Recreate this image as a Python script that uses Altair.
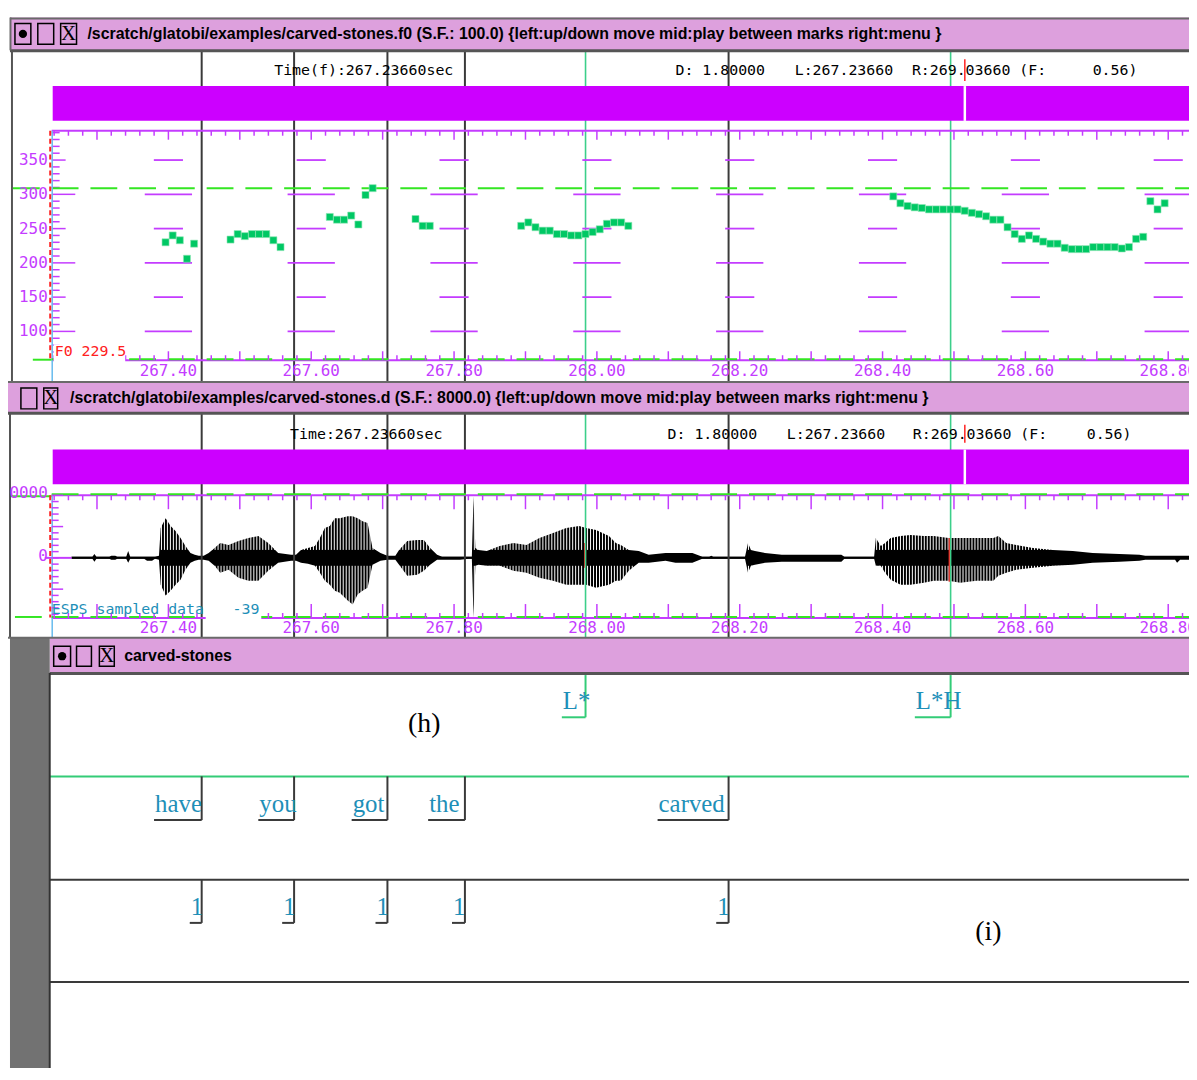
import altair as alt
import pandas as pd

W, H = 1189, 1060

# ------------------------------------------------------------------ values
T_VIEW = [267.1754, 268.8291]      # time shown at the left / right edge of the window (s)
T_LEFT = 267.2366                  # "L:" start of the signal views
T_MARK = 268.5152                  # marker in the scroll bars / read-outs

# F0 track (Hz), 10 ms frames, voiced frames only
f0_t = [267.396, 267.406, 267.416, 267.426, 267.436,
        267.487, 267.497, 267.507, 267.517, 267.527, 267.537, 267.547, 267.557,
        267.626, 267.636, 267.646, 267.656, 267.666, 267.676, 267.686,
        267.746, 267.756, 267.766,
        267.894, 267.904, 267.914, 267.924, 267.934, 267.944, 267.954, 267.964,
        267.974, 267.984, 267.994, 268.004, 268.014, 268.024, 268.034, 268.044,
        268.415, 268.425, 268.435, 268.445, 268.455, 268.465, 268.475, 268.485,
        268.495, 268.505, 268.515, 268.525, 268.535, 268.545, 268.555, 268.565,
        268.575, 268.585, 268.595, 268.605, 268.615, 268.625, 268.635, 268.645,
        268.655, 268.665, 268.675, 268.685, 268.695, 268.705, 268.715, 268.725,
        268.735, 268.745, 268.755, 268.765, 268.775, 268.785, 268.795]
f0_hz = [230, 240, 233, 206, 228,
         234, 242, 239, 242, 242, 242, 233, 223,
         267, 263, 263, 269, 256, 299, 309,
         264, 254, 254,
         254, 259, 252, 247, 247, 242, 242, 240,
         240, 242, 245, 249, 257, 259, 259, 254,
         297, 287, 283, 281, 280, 278, 278, 278,
         278, 278, 276, 273, 271, 268, 263, 263,
         252, 242, 235, 240, 235, 231, 228, 228,
         222, 220, 220, 220, 223, 223, 223, 223,
         221, 223, 235, 238, 290, 278, 287]

# speech waveform envelope (sample units): time, upper and lower extreme
wave_t = [267.2644, 267.2936, 267.2964, 267.2992, 267.3173, 267.3201, 267.3256, 267.3284,
          267.3409, 267.3437, 267.3465, 267.3660, 267.3701, 267.3771, 267.3813, 267.3868,
          267.3892, 267.3961, 267.4031, 267.4100, 267.4170, 267.4239, 267.4309, 267.4369,
          267.4424, 267.4494, 267.4564, 267.4647, 267.4726, 267.4842, 267.4981, 267.5120,
          267.5259, 267.5398, 267.5537, 267.5718, 267.5787, 267.5857, 267.5954, 267.6052,
          267.6121, 267.6191, 267.6260, 267.6330, 267.6399, 267.6511, 267.6580, 267.6650,
          267.6719, 267.6789, 267.6858, 267.6970, 267.7067, 267.7178, 267.7230, 267.7345,
          267.7484, 267.7577, 267.7665, 267.7762, 267.7832, 267.8082, 267.8207, 267.8249,
          267.8273, 267.8298, 267.8342, 267.8458, 267.8639, 267.8829, 267.9014, 267.9195,
          267.9386, 267.9571, 267.9751, 267.9849, 267.9988, 268.0169, 268.0266, 268.0335,
          268.0447, 268.0586, 268.0725, 268.0961, 268.1100, 268.1337, 268.1476, 268.1573,
          268.1601, 268.1629, 268.2074, 268.2116, 268.2157, 268.2213, 268.2352, 268.2589,
          268.3048, 268.3423, 268.3465, 268.3882, 268.3906, 268.3975, 268.4035, 268.4114,
          268.4253, 268.4392, 268.4577, 268.4717, 268.4925, 268.5088, 268.5315, 268.5551,
          268.5621, 268.5732, 268.5871, 268.6107, 268.6386, 268.6664, 268.6942, 268.7317,
          268.7596, 268.7679, 268.8096, 268.8124, 268.8166, 268.8291]
wave_hi = [160, 160, 630, 160, 160, 320, 320, 160,
           160, 1110, 160, 160, 160, 160, 160, 320,
           4760, 6350, 5080, 4290, 3170, 1900, 790, 480,
           320, 320, 790, 1590, 2380, 2060, 2700, 3170,
           3490, 2380, 790, 480, 480, 1270, 1590, 1900,
           3170, 4760, 5080, 6350, 6350, 6670, 6670, 6350,
           5870, 5560, 1590, 790, 320, 320, 1270, 2700,
           2860, 2860, 1590, 480, 160, 160, 160, 160,
           9840, 1590, 1270, 1110, 1900, 2380, 2060, 3170,
           3970, 4760, 5080, 4760, 4440, 3490, 2380, 2060,
           1270, 1110, 480, 790, 790, 790, 160, 160,
           320, 160, 160, 2380, 1270, 1110, 790, 480,
           480, 480, 160, 160, 3170, 1900, 2380, 3170,
           3490, 3650, 3490, 3490, 3170, 3170, 3170, 3170,
           3490, 2380, 2060, 1590, 1270, 1110, 790, 630,
           480, 320, 320, 320, 320, 320]
wave_lo = [-160, -160, -630, -160, -160, -320, -320, -160,
           -160, -790, -160, -160, -480, -480, -160, -320,
           -4290, -6030, -5240, -4290, -3490, -1900, -790, -480,
           -320, -320, -480, -1270, -2380, -1900, -3170, -3650,
           -3650, -2060, -790, -480, -480, -790, -950, -1270,
           -2380, -3650, -4290, -5240, -5560, -6830, -7460, -5870,
           -5240, -4760, -1110, -480, -320, -320, -1110, -2860,
           -2700, -2060, -1110, -320, -320, -320, -160, -160,
           -9520, -1270, -1110, -1270, -1270, -2060, -2380, -3170,
           -3650, -4290, -4290, -4290, -4760, -4290, -3650, -3650,
           -2060, -790, -790, -480, -790, -790, -160, -160,
           -160, -160, -160, -2380, -1270, -1110, -790, -630,
           -630, -630, -160, -160, -1270, -1270, -2380, -3490,
           -4290, -4290, -3970, -3650, -3650, -3970, -3650, -3650,
           -2860, -2380, -1900, -1590, -1270, -1110, -790, -630,
           -480, -320, -320, -790, -320, -320]

# samples at the cursor drawn in red
red_t = [267.9835, 268.4939]
red_hi = [2380, 3170]
red_lo = [-1590, -3810]

# label tiers
tone_labels = ["L*", "L*H"]
tone_start = [267.9509, 268.4452]
tone_end = [267.9841, 268.4953]
word_labels = ["have", "you", "got", "the", "carved"]
word_start = [267.3799, 267.5259, 267.6566, 267.7637, 268.0850]
word_end = [267.4466, 267.5760, 267.7067, 267.8152, 268.1844]
break_labels = ["1", "1", "1", "1", "1"]
break_start = [267.4299, 267.5593, 267.6900, 267.7971, 268.1671]
break_end = [267.4466, 267.5760, 267.7067, 267.8152, 268.1844]

time_tick_labels = ["267.40", "267.60", "267.80", "268.00", "268.20", "268.40", "268.60", "268.80"]
f0_axis_labels = [100, 150, 200, 250, 300, 350]
F0_CURSOR = 309
wave_axis_values = [10000, 0]
wave_axis_texts = ["0000", "0"]

f0_title = "/scratch/glatobi/examples/carved-stones.f0 (S.F.:  100.0) {left:up/down move  mid:play between marks  right:menu  }"
wave_title = "/scratch/glatobi/examples/carved-stones.d (S.F.: 8000.0) {left:up/down move  mid:play between marks  right:menu  }"
label_title = "carved-stones"
info_f0 = ["Time(f):267.23660sec", "D: 1.80000", "L:267.23660", "R:269.03660 (F:", "0.56)"]
info_wave = ["Time:267.23660sec", "D: 1.80000", "L:267.23660", "R:269.03660 (F:", "0.56)"]
F0_READOUT = "F0 229.5"
WAVE_NAME = "ESPS sampled data"
WAVE_READOUT = "-39"

# ------------------------------------------------------------------ styling
PLUM = "#dda0dd"
MAG = "#c43cff"
MAGBAR = "#cc00ff"
GREEN = "#33e622"
CURG = "#3ccf8a"
DARK = "#3a3a3a"
TEAL = "#1e8fb8"
CYAN = "#66bbee"
RED = "#ff2020"
F0C = "#00c864"
MONO = "DejaVu Sans Mono"
NARROW = "Liberation Sans Narrow, Arial Narrow, Liberation Sans, sans-serif"
SERIF = "Liberation Serif"


def S(domain, rng):
    return alt.Scale(domain=list(domain), range=list(rng), nice=False, zero=False)


SC_T = S(T_VIEW, [0, W])                 # time
SC_PX = S([8, 8 + W], [0, W])            # window layout (screen columns)
SC_PY = S([8, 8 + H], [0, H])            # window layout (screen rows)
SC_F0 = S([100, 350], [322, 149.5])      # F0 in Hz
SC_AMP = S([0, 10000], [550, 487])       # waveform amplitude


def ex(f, sc):
    return alt.X(f"{f}:Q", scale=sc, axis=None)


def ey(f, sc):
    return alt.Y(f"{f}:Q", scale=sc, axis=None)


COL = alt.Color("c:N", scale=None)
WID = alt.Size("w:Q", scale=None)


def hrules(rows, xs=SC_PX, ys=SC_PY, **kw):
    df = pd.DataFrame(rows, columns=["x", "x2", "y", "c", "w"])
    return alt.Chart(df).mark_rule(**kw).encode(
        x=ex("x", xs), x2="x2:Q", y=ey("y", ys), color=COL, size=WID)


def vrules(rows, xs=SC_PX, ys=SC_PY, **kw):
    df = pd.DataFrame(rows, columns=["x", "y", "y2", "c", "w"])
    return alt.Chart(df).mark_rule(**kw).encode(
        x=ex("x", xs), y=ey("y", ys), y2="y2:Q", color=COL, size=WID)


def rects(rows, **kw):
    df = pd.DataFrame(rows, columns=["x", "x2", "y", "y2", "c"])
    return alt.Chart(df).mark_rect(**kw).encode(
        x=ex("x", SC_PX), x2="x2:Q", y=ey("y", SC_PY), y2="y2:Q", color=COL)


def texts(rows, xs=SC_PX, ys=SC_PY, **kw):
    df = pd.DataFrame(rows, columns=["x", "y", "s", "c"])
    return alt.Chart(df).mark_text(**kw).encode(
        x=ex("x", xs), y=ey("y", ys), text="s:N", color=COL)


layers = []

# waveform (filled envelope)
wave_df = pd.DataFrame({"t": wave_t, "hi": wave_hi, "lo": wave_lo})
layers.append(alt.Chart(wave_df).mark_area(color="black", interpolate="linear").encode(
    x=ex("t", SC_T), y=ey("hi", SC_AMP), y2="lo:Q"))

# rendering texture: thin white comb outside a solid core, imitating the
# individual sample lines of the waveform display
comb = []
xpix = 60.5
while xpix < 1197:
    comb.append((xpix, 497, 550, "white", 1))
    comb.append((xpix, 566, 617, "white", 1))
    xpix += 3
layers.append(vrules(comb))

zero_df = pd.DataFrame({"t": [wave_t[0]], "t2": [wave_t[-1]], "a": [0]})
layers.append(alt.Chart(zero_df).mark_rule(color="black", strokeWidth=2).encode(
    x=ex("t", SC_T), x2="t2:Q", y=ey("a", SC_AMP)))
red_df = pd.DataFrame({"t": red_t, "hi": red_hi, "lo": red_lo})
layers.append(alt.Chart(red_df).mark_rule(color=RED, strokeWidth=2).encode(
    x=ex("t", SC_T), y=ey("hi", SC_AMP), y2="lo:Q"))

# word boundaries and cursors through the two signal windows
spans = [(47, 380), (413, 638)]
vl = [(t, a, b, DARK, 2) for t in word_end for a, b in spans]
vl += [(t, a, b, CURG, 1.6) for t in tone_end for a, b in spans]
layers.append(vrules(vl, xs=SC_T))

# F0 reticle and left axis ticks
grid = []
for lab in time_tick_labels:
    tc = float(lab)
    for lv in f0_axis_labels:
        hw = 0.0331 if lv % 100 == 0 else 0.0204
        grid.append((tc - hw, tc + hw, lv, MAG, 1.8))
for hz in range(60, 400, 10):
    ln = 0.0330 if hz % 100 == 0 else (0.0195 if hz % 50 == 0 else 0.0111)
    grid.append((T_LEFT, T_LEFT + ln, hz, MAG, 1.5))
layers.append(hrules(grid, xs=SC_T, ys=SC_F0))

# horizontal F0 cursor (dashed)
layers.append(hrules([(13, 1197, F0_CURSOR, GREEN, 2)], ys=SC_F0, strokeDash=[27, 12]))

# F0 points
f0_df = pd.DataFrame({"t": f0_t, "hz": f0_hz})
layers.append(alt.Chart(f0_df).mark_square(size=50, color=F0C, opacity=1, stroke="#8ee6b4",
                                           strokeWidth=0.6).encode(
    x=ex("t", SC_T), y=ey("hz", SC_F0)))

# axis frame lines
layers.append(hrules([
    (52, 1197, 128, MAG, 2), (52, 1197, 359, MAG, 2),
    (52, 1197, 495, MAG, 2), (52, 1197, 618.5, MAG, 2),
    (45, 72, 558, MAG, 2),
    (10, 52, 496, GREEN, 2), (15, 42, 617.5, GREEN, 2), (33, 52, 358.5, GREEN, 2),
]))
layers.append(vrules([
    (52.5, 128, 380, CYAN, 1.5), (52.5, 495, 638, CYAN, 1.5),
    (12, 47, 380, "#555555", 2), (10, 413, 638, "#555555", 2),
]))
layers.append(vrules([(50.5, 128, 359, RED, 2), (50.5, 495, 618, RED, 2)], strokeDash=[5, 3]))
layers.append(hrules([(52, 1197, 358, GREEN, 2), (52, 1197, 494, GREEN, 2),
                      (52, 1197, 617.5, GREEN, 2)], strokeDash=[27, 12]))

# time ticks
tick_t = [round(267.24 + 0.02 * k, 2) for k in range(80)]
frames = [(128, 1, 5, 9), (359, -1, 5, 9), (495, 1, 5, 14), (618.5, -1, 5, 14)]
tk = []
for t in tick_t:
    major = abs(t * 10 - round(t * 10)) < 1e-6
    for y0, d, lmin, lmaj in frames:
        tk.append((t, y0, y0 + d * (lmaj if major else lmin), MAG, 1.5))
layers.append(vrules(tk, xs=SC_T))

# waveform amplitude ticks
wt = []
for a in range(-9000, 10001, 1000):
    ln = 0.0160 if a % 5000 == 0 and a != 0 else 0.0097
    wt.append((T_LEFT, T_LEFT + ln, a, MAG, 1.5))
layers.append(hrules(wt, xs=SC_T, ys=SC_AMP))

# white boxes behind read-outs
layers.append(rects([(54, 126, 343, 362, "white"), (207, 263, 601, 622, "white")]))

# mono texts (left aligned)
xs_f0 = [276, 680, 800, 918, 1100]
xs_wv = [292, 672, 792, 919, 1094]
mono = [(x, 67, s, "black") for x, s in zip(xs_f0, info_f0)]
mono += [(x, 433, s, "black") for x, s in zip(xs_wv, info_wave)]
mono += [(55, 350, F0_READOUT, RED), (52, 610, WAVE_NAME, TEAL), (234, 610, WAVE_READOUT, TEAL)]
layers.append(texts(mono, font=MONO, fontSize=15, align="left", baseline="middle"))

# time tick labels
tl = [(float(s), 362, s, MAG) for s in time_tick_labels]
tl += [(float(s), 621, s, MAG) for s in time_tick_labels]
layers.append(texts(tl, xs=SC_T, font=MONO, fontSize=16, align="center", baseline="top"))

# F0 axis labels
fl = [(T_LEFT, v, str(v), MAG) for v in f0_axis_labels]
layers.append(texts(fl, xs=SC_T, ys=SC_F0, font=MONO, fontSize=16, align="right",
                    baseline="middle", dx=-4))
wl = [(T_LEFT, v, s, MAG) for v, s in zip(wave_axis_values, wave_axis_texts)]
layers.append(texts(wl, xs=SC_T, ys=SC_AMP, font=MONO, fontSize=16, align="right",
                    baseline="middle", dx=-4, dy=-2))

# scroll bars with marker
layers.append(rects([(53, 1197, 83, 118, MAGBAR), (53, 1197, 449, 484, MAGBAR)]))
layers.append(vrules([(T_MARK, 83, 118, "white", 2.5), (T_MARK, 449, 484, "white", 2.5),
                      (T_MARK, 56, 78, RED, 1.5), (T_MARK, 424, 442, RED, 1.5)], xs=SC_T))

# title bars and label window frame
layers.append(rects([(10, 1197, 14, 47, PLUM), (0, 1197, 380, 413, PLUM),
                     (50, 1197, 638, 674, PLUM), (10, 50, 638, 1080, "#727272")]))
layers.append(hrules([(10, 1197, 15, "#6a6a6a", 2), (10, 1197, 47.5, "#555555", 3),
                      (0, 1197, 381, "#6a6a6a", 2), (0, 1197, 412.5, "#555555", 3),
                      (0, 1197, 638.5, "#6a6a6a", 2), (50, 1197, 674.5, "#555555", 3),
                      (50, 1197, 778, "#33cc77", 2), (50, 1197, 882, DARK, 2),
                      (50, 1197, 985, DARK, 2)]))
layers.append(vrules([(10.5, 14, 47, "#6a6a6a", 2), (50, 674, 1080, "#333333", 2)]))

# window buttons
btn = [(15, 31, 20, 41, PLUM), (38, 54, 20, 41, PLUM), (61, 77, 20, 41, PLUM),
       (21, 37, 387, 408, PLUM), (44, 58, 387, 408, PLUM),
       (54, 71, 647, 667, PLUM), (77, 92, 647, 667, PLUM), (100, 115, 647, 667, PLUM)]
layers.append(rects(btn, stroke="black", strokeWidth=1.5))
dots = pd.DataFrame({"x": [23, 62.5], "y": [30.5, 657]})
layers.append(alt.Chart(dots).mark_point(filled=True, shape="circle", size=70, color="black",
                                         opacity=1).encode(x=ex("x", SC_PX), y=ey("y", SC_PY)))
layers.append(texts([(69, 31, "X", "black"), (51, 397.5, "X", "black"), (107.5, 657, "X", "black")],
                    font=SERIF, fontSize=21, align="center", baseline="middle"))

# title texts
layers.append(texts([(88, 31, f0_title, "black"), (70.5, 397, wave_title, "black"),
                     (125, 657, label_title, "black")],
                    font=NARROW, fontSize=16, fontWeight="bold", align="left", baseline="middle"))

# label tiers: brackets and labels
tiers = [(tone_labels, tone_start, tone_end, 676, 718.5, "#33cc77"),
         (word_labels, word_start, word_end, 778, 822, DARK),
         (break_labels, break_start, break_end, 882, 925.5, DARK)]
bv, bu, bl = [], [], []
for labs, st, en, top, base, col in tiers:
    for lab, s, e in zip(labs, st, en):
        bv.append((e, top, base, col, 2))
        bu.append((s, e, base, col, 2))
        bl.append((s, base - 8, lab, TEAL))
layers.append(vrules(bv, xs=SC_T))
layers.append(hrules(bu, xs=SC_T))
layers.append(texts(bl, xs=SC_T, font=SERIF, fontSize=25, align="left", baseline="alphabetic", dx=1))

# panel captions
layers.append(texts([(427, 725, "(h)", "black"), (995, 935, "(i)", "black")],
                    font=SERIF, fontSize=28, align="center", baseline="middle"))

chart = alt.layer(*layers).resolve_scale(x="independent", y="independent").properties(
    width=W, height=H, autosize=alt.AutoSizeParams(type="none"), padding=0
).configure_view(strokeWidth=0)

chart.save("out.html", embed_options={"renderer": "svg", "actions": False})
